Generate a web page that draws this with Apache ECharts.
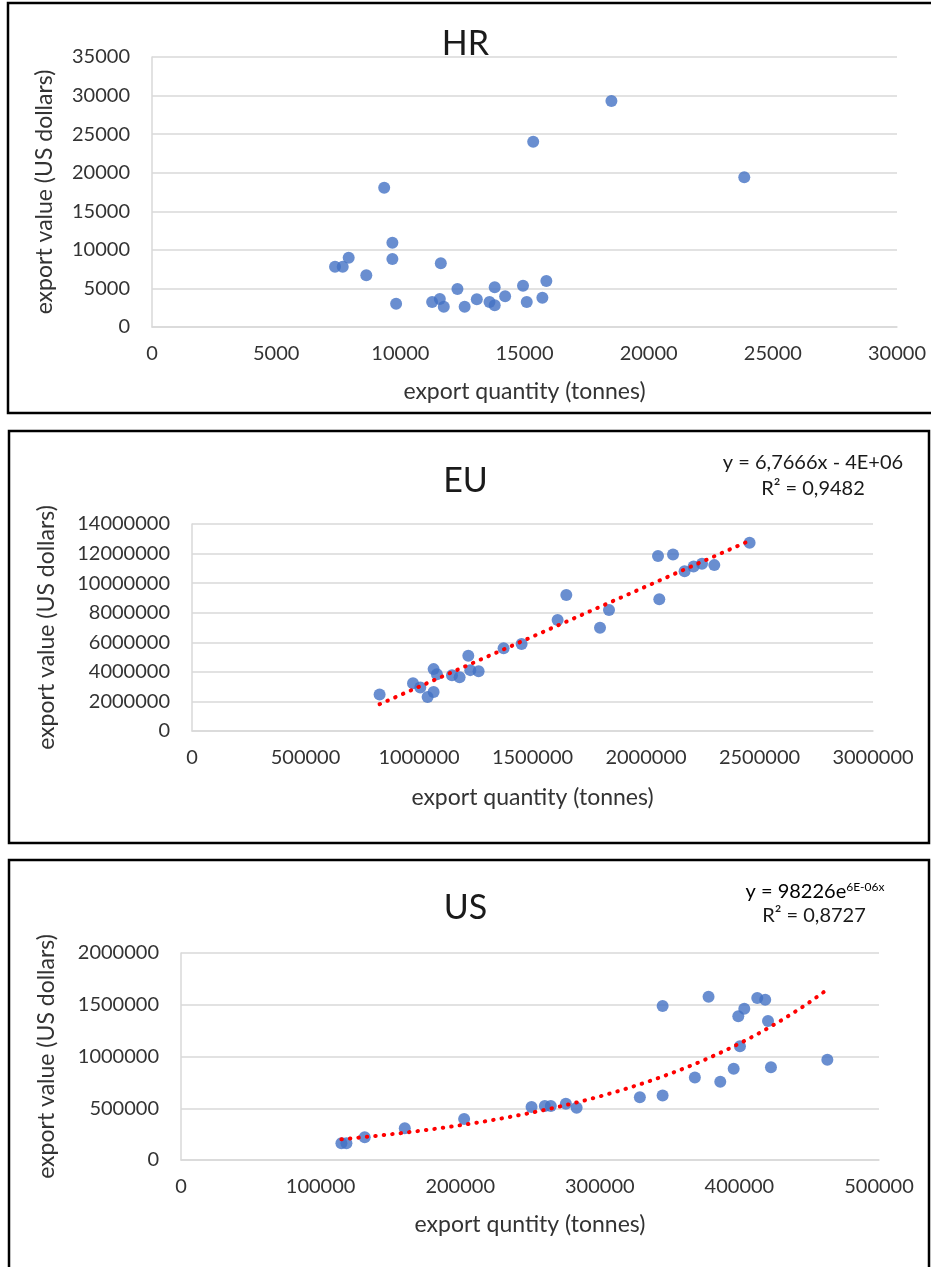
<!DOCTYPE html>
<html lang="en">
<head>
<meta charset="UTF-8">
<title>export quantity vs value</title>
<style>
  html, body { margin: 0; padding: 0; background: #fff; }
  #main { width: 931px; height: 1267px; }
</style>
<script src="https://cdn.jsdelivr.net/npm/echarts@6/dist/echarts.min.js"></script>
</head>
<body>
<div id="main"></div>
<script>
// HR
var hrQty = [18500, 15350, 9350, 23850, 9680, 9680, 7920, 7370, 7680, 8630, 11630, 9830, 11280, 11590, 11750, 12300, 12590, 13080, 13590, 13800, 13800, 14220, 14940, 15090, 15720, 15880];
var hrValue = [29300, 24000, 18050, 19400, 10930, 8820, 8990, 7820, 7820, 6700, 8260, 3020, 3240, 3630, 2630, 4930, 2630, 3590, 3240, 2810, 5150, 3980, 5350, 3240, 3800, 5960];

// EU
var euQty = [826400, 973600, 1005700, 1037900, 1064300, 1064300, 1079000, 1145400, 1178900, 1217200, 1226000, 1262600, 1372700, 1452000, 1610600, 1648900, 1797400, 1837000, 2052900, 2119000, 2058600, 2170000, 2209700, 2246700, 2300900, 2456400];
var euValue = [2469000, 3235000, 2943000, 2306000, 2645000, 4185000, 3846000, 3778000, 3642000, 5087000, 4117000, 4049000, 5589000, 5881000, 7509000, 9204000, 6986000, 8187000, 11829000, 11938000, 8913000, 10812000, 11124000, 11307000, 11219000, 12731000];

// US
var usQty = [114900, 118500, 131600, 160300, 202800, 251100, 260600, 264900, 275700, 283400, 328700, 345000, 345000, 368100, 377900, 386300, 395900, 399200, 400400, 403500, 412800, 418500, 420500, 422600, 463000];
var usValue = [162000, 162000, 220000, 307000, 395000, 511000, 521000, 521000, 543000, 505000, 607000, 624000, 1487000, 798000, 1578000, 756000, 882000, 1388000, 1098000, 1462000, 1565000, 1549000, 1342000, 897000, 969000];

var titles = ['HR', 'EU', 'US'];
var xNames = ['export quantity (tonnes)', 'export quantity (tonnes)', 'export quntity (tonnes)'];
var yName = 'export value (US dollars)';
var euFormula = ['y = 6,7666x - 4E+06', 'R² = 0,9482'];
var usFormula = ['98226', '6E-06x', 'R² = 0,8727'];

var FONT = 'Lato';
var TXT = '#333333';
var BLUE = '#4472c4';

function pairs(xs, ys) {
  return xs.map(function (x, i) { return [x, ys[i]]; });
}

// least squares line (Excel linear trendline)
function linFit(xs, ys) {
  var n = xs.length, sx = 0, sy = 0, sxx = 0, sxy = 0;
  for (var i = 0; i < n; i++) { sx += xs[i]; sy += ys[i]; sxx += xs[i] * xs[i]; sxy += xs[i] * ys[i]; }
  var b = (n * sxy - sx * sy) / (n * sxx - sx * sx);
  return { b: b, a: (sy - b * sx) / n };
}

var lin = linFit(euQty, euValue);
var euMin = Math.min.apply(null, euQty), euMax = Math.max.apply(null, euQty);
var euTrend = [[euMin, lin.a + lin.b * euMin], [euMax, lin.a + lin.b * euMax]];

// exponential trendline = linear fit on ln(y)
var ex = linFit(usQty, usValue.map(Math.log));
var usMin = Math.min.apply(null, usQty), usMax = Math.max.apply(null, usQty);
var usTrend = [];
for (var k = 0; k <= 60; k++) {
  var xx = usMin + (usMax - usMin) * k / 60;
  usTrend.push([xx, Math.exp(ex.a + ex.b * xx)]);
}

var grids = [
  { left: 152, top: 57, width: 745, height: 270 },
  { left: 192, top: 524, width: 681, height: 207 },
  { left: 181, top: 953, width: 698, height: 207 }
];
var xMax = [30000, 3000000, 500000], xStep = [5000, 500000, 100000];
var yMax = [35000, 14000000, 2000000], yStep = [5000, 2000000, 500000];
var yGap = [96, 134, 123];
var xGap = [53, 55, 53];

var xAxes = [], yAxes = [];
for (var g = 0; g < 3; g++) {
  xAxes.push({
    type: 'value', gridIndex: g, min: 0, max: xMax[g], interval: xStep[g],
    name: xNames[g], nameLocation: 'middle', nameGap: xGap[g],
    nameTextStyle: { fontFamily: FONT, fontSize: 23, color: TXT },
    axisLine: { show: true, lineStyle: { color: '#d9d9d9', width: 1.5 } },
    axisTick: { show: false },
    splitLine: { show: false },
    axisLabel: { fontFamily: FONT, fontSize: 20, color: TXT, margin: 17, formatter: function (v) { return String(v); } }
  });
  yAxes.push({
    type: 'value', gridIndex: g, min: 0, max: yMax[g], interval: yStep[g],
    name: yName, nameLocation: 'middle', nameGap: yGap[g], nameRotate: 90,
    nameTextStyle: { fontFamily: FONT, fontSize: 23, color: TXT },
    axisLine: { show: true, lineStyle: { color: '#d9d9d9', width: 1.5 } },
    axisTick: { show: false },
    splitLine: { show: true, lineStyle: { color: '#d9d9d9', width: 1.5 } },
    axisLabel: { fontFamily: FONT, fontSize: 20, color: TXT, margin: 22, formatter: function (v) { return String(v); } }
  });
}

function scatter(idx, data) {
  return { type: 'scatter', xAxisIndex: idx, yAxisIndex: idx, data: data, symbolSize: 12, itemStyle: { color: BLUE }, z: 3 };
}
function trend(idx, data) {
  return {
    type: 'line', xAxisIndex: idx, yAxisIndex: idx, data: data, symbol: 'none', smooth: false, z: 4,
    lineStyle: { color: '#ff0000', width: 4, type: [0.5, 8], cap: 'round' }
  };
}

var titleStyle = { fontFamily: FONT, fontSize: 34, fontWeight: 'normal', color: '#1a1a1a' };

var chart = echarts.init(document.getElementById('main'));
chart.setOption({
  animation: false,
  title: [
    { text: titles[0], left: 'center', top: 22, textStyle: titleStyle },
    { text: titles[1], left: 'center', top: 459, textStyle: titleStyle },
    { text: titles[2], left: 'center', top: 886, textStyle: titleStyle }
  ],
  grid: grids,
  xAxis: xAxes,
  yAxis: yAxes,
  series: [
    scatter(0, pairs(hrQty, hrValue)),
    trend(1, euTrend),
    scatter(1, pairs(euQty, euValue)),
    trend(2, usTrend),
    scatter(2, pairs(usQty, usValue))
  ],
  graphic: [
    { type: 'rect', shape: { x: 8, y: 3, width: 940, height: 410 }, style: { fill: null, stroke: '#000', lineWidth: 2.5 }, silent: true },
    { type: 'rect', shape: { x: 9, y: 431, width: 920, height: 412 }, style: { fill: null, stroke: '#000', lineWidth: 2.5 }, silent: true },
    { type: 'rect', shape: { x: 9, y: 860, width: 920, height: 430 }, style: { fill: null, stroke: '#000', lineWidth: 2.5 }, silent: true },
    { type: 'text', x: 813, y: 463, style: { text: euFormula[0], font: '20px ' + FONT, fill: '#1a1a1a', align: 'center', verticalAlign: 'middle' } },
    { type: 'text', x: 813, y: 489, style: { text: euFormula[1], font: '20px ' + FONT, fill: '#1a1a1a', align: 'center', verticalAlign: 'middle' } },
    { type: 'text', x: 815, y: 892, style: {
        text: '{a|y = ' + usFormula[0] + 'e}{s|' + usFormula[1] + '}',
        align: 'center', verticalAlign: 'middle',
        rich: { a: { fontFamily: FONT, fontSize: 20, color: '#1a1a1a' }, s: { fontFamily: FONT, fontSize: 12, color: '#1a1a1a', verticalAlign: 'top', padding: [0, 0, 10, 0] } }
      } },
    { type: 'text', x: 814, y: 916, style: { text: usFormula[2], font: '20px ' + FONT, fill: '#1a1a1a', align: 'center', verticalAlign: 'middle' } }
  ]
});
</script>
</body>
</html>
